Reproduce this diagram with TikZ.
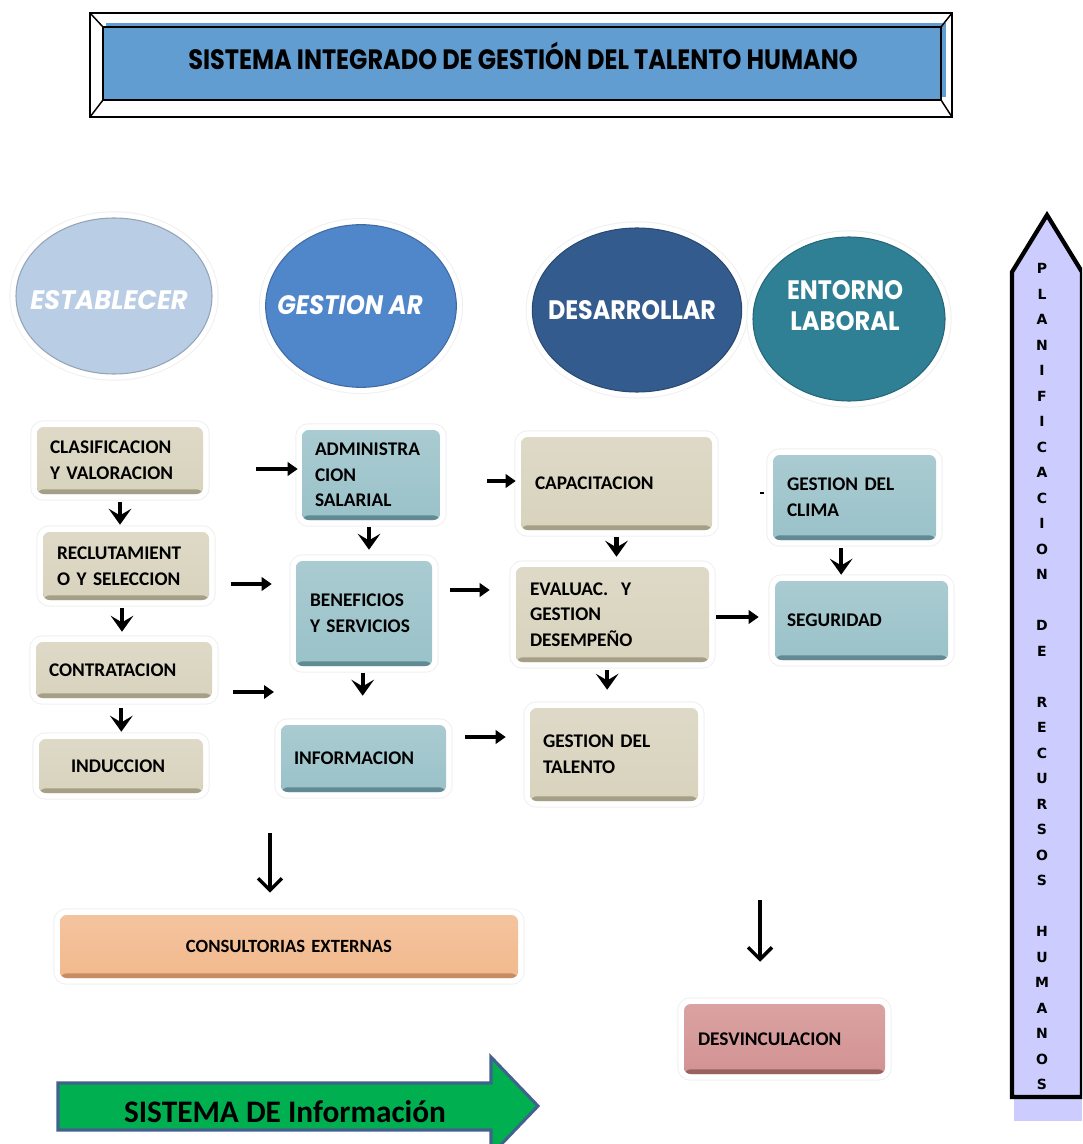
\documentclass[tikz,border=0pt]{standalone}
\usepackage{fontspec}
\setmainfont{Carlito}
\newfontfamily\gothic{Poppins}
\newfontfamily\dejavu{DejaVu Sans}
\usepackage{graphicx}
\usetikzlibrary{shapes.geometric,arrows.meta}

\definecolor{titleblue}{RGB}{97,157,209}
\definecolor{establ}{RGB}{185,205,229}
\definecolor{gestion}{RGB}{80,134,202}
\definecolor{desarr}{RGB}{52,91,141}
\definecolor{entorno}{RGB}{47,128,149}
\definecolor{tanfill}{RGB}{216,211,189}
\definecolor{tanedge}{RGB}{165,159,136}
\definecolor{tealfill}{RGB}{154,194,201}
\definecolor{tealedge}{RGB}{98,138,148}
\definecolor{orangefill}{RGB}{242,185,141}
\definecolor{orangeedge}{RGB}{200,140,100}
\definecolor{pinkfill}{RGB}{211,146,146}
\definecolor{pinkedge}{RGB}{152,98,98}
\definecolor{lavender}{RGB}{204,204,255}
\definecolor{infogreen}{RGB}{0,176,80}
\definecolor{infoedge}{RGB}{65,98,140}

% rounded card: x1 y1 x2 y2 in px, left padding in px
\newcommand\flowcard[8]{%
  \pgfmathsetmacro\cardW{(#5-#3)*0.75}%
  \pgfmathsetmacro\cardH{(#6-#4)*0.75}%
  \pgfmathsetmacro\cardP{#7*0.75}%
  \pgfmathsetmacro\cardT{(#5-#3-2*#7)*0.75}%
  \node[#1, minimum width=\cardW pt, minimum height=\cardH pt,
        inner xsep=\cardP pt, text width=\cardT pt]
        (#2) at ({(#3+#5)/2},{(#4+#6)/2}) {#8};}

\begin{document}
\begin{tikzpicture}[x=0.75pt,y=-0.75pt,
  card/.style={rounded corners=5pt, inner ysep=0pt, align=left,
    font=\bfseries\fontsize{14.5}{19.2}\selectfont,
    preaction={draw=black!6, line width=10pt},
    preaction={draw=white, line width=8.5pt}},
  shadedcard/.style n args={2}{card, top color=#1!85!white, bottom color=#1,
    path picture={\fill[#2] (path picture bounding box.south west)
      rectangle ([yshift=3.5pt]path picture bounding box.south east);}},
  tanbox/.style={shadedcard={tanfill}{tanedge}},
  tealbox/.style={shadedcard={tealfill}{tealedge}},
  orangebox/.style={shadedcard={orangefill}{orangeedge}},
  pinkbox/.style={shadedcard={pinkfill}{pinkedge}},
  orb/.style={ellipse, inner sep=0pt, fill=#1, draw=#1!80!black, line width=0.8pt,
    preaction={draw=black!6, line width=10pt},
    preaction={draw=white, line width=8.5pt}},
  orbtext/.style={text=white, anchor=base, inner sep=0pt,
    font=\gothic\bfseries\fontsize{20}{24}\selectfont},
  darr/.style={line width=3.2pt, -{Stealth[length=12pt,width=17pt,inset=5pt]}},
  harr/.style={line width=2.6pt, -{Triangle[length=7.5pt,width=10pt]}},
  larr/.style={line width=2.6pt, -{Straight Barb[length=9pt,width=18pt]}}
]
\useasboundingbox (0,0) rectangle (1082,1144);
\begin{scope}
\clip (0,0) rectangle (1082,1144);

% ---- title banner with bevelled frame
\fill[titleblue] (106,23) rectangle (946,97);
\fill[titleblue] (103,27) rectangle (941,100);
\draw[line width=2.2pt] (90,13) rectangle (952,117);
\draw[line width=1.6pt] (103,27) rectangle (941,100);
\draw[line width=1.1pt] (90,13) -- (103,27) (952,13) -- (941,27)
  (90,117) -- (103,100) (952,117) -- (941,100);
\node[anchor=base, inner sep=0pt, font=\gothic\bfseries\fontsize{21}{24}\selectfont]
  (title) at (523,69.5)
  {\resizebox{502pt}{\height}{SISTEMA INTEGRADO DE GESTIÓN DEL TALENTO HUMANO}};

% ---- the four stages
\node[orb=establ,  minimum width=147pt, minimum height=117pt] (est) at (114,296) {};
\node[orb=gestion, minimum width=143pt, minimum height=122pt] (ges) at (361,306) {};
\node[orb=desarr,  minimum width=157pt, minimum height=123pt] (des) at (637,310) {};
\node[orb=entorno, minimum width=144pt, minimum height=123pt] (ent) at (849,319) {};
\node[orbtext] (estT) at (109,310) {\resizebox{118pt}{\height}{\itshape ESTABLECER}};
\node[orbtext] (gesT) at (350,315) {\resizebox{109pt}{\height}{\itshape GESTION AR}};
\node[orbtext] (desT) at (632,320) {\resizebox{126pt}{\height}{DESARROLLAR}};
\node[orbtext] (entT) at (845,300) {\resizebox{87pt}{\height}{ENTORNO}};
\node[orbtext] (labT) at (845,330) {\resizebox{82pt}{\height}{LABORAL}};

% ---- column 1
\flowcard{tanbox}{clas}{37}{427}{203}{494}{13}{\mbox{CLASIFICACION}\\\mbox{Y VALORACION}}
\flowcard{tanbox}{recl}{43}{532}{209}{600}{14}{\mbox{RECLUTAMIENT}\\\mbox{O Y SELECCION}}
\flowcard{tanbox}{contr}{36}{642}{212}{698}{13}{\mbox{CONTRATACION}}
\flowcard{tanbox}{induc}{39}{739}{203}{793}{32}{\mbox{INDUCCION}}
% ---- column 2
\flowcard{tealbox}{admin}{302}{430}{440}{520}{13}{\mbox{ADMINISTRA}\\\mbox{CION}\\\mbox{SALARIAL}}
\flowcard{tealbox}{benef}{296}{561}{432}{666}{14}{\mbox{BENEFICIOS}\\\mbox{Y SERVICIOS}}
\flowcard{tealbox}{info}{281}{725}{446}{792}{13}{\mbox{INFORMACION}}
% ---- column 3
\flowcard{tanbox}{capac}{521}{437}{712}{530}{14}{\mbox{CAPACITACION}}
\flowcard{tanbox}{eval}{516}{567}{709}{662}{14}{\mbox{EVALUAC.~~Y}\\\mbox{GESTION}\\\mbox{DESEMPEÑO}}
\flowcard{tanbox}{gtal}{530}{708}{698}{801}{13}{\mbox{GESTION DEL}\\\mbox{TALENTO}}
% ---- column 4
\flowcard{tealbox}{clima}{773}{455}{936}{540}{14}{\mbox{GESTION DEL}\\\mbox{CLIMA}}
\flowcard{tealbox}{segur}{775}{581}{948}{660}{12}{\mbox{SEGURIDAD}}
% ---- lower boxes
\flowcard{orangebox, align=center, font=\bfseries\fontsize{14}{18}\selectfont}{consult}{60}{915}{518}{978}{20}{CONSULTORIAS EXTERNAS}
\flowcard{pinkbox}{desv}{684}{1004}{885}{1074}{14}{\mbox{DESVINCULACION}}

% ---- downward steps inside each column
\draw[darr, shorten <=6pt, shorten >=5.25pt] (clas.south) -- (clas.south |- recl.north);
\draw[darr, shorten <=6pt, shorten >=7.5pt] ([xshift=-3pt]recl.south) -- ([xshift=-3pt]recl.south |- contr.north);
\draw[darr, shorten <=7.5pt, shorten >=5.25pt] ([xshift=-2pt]contr.south) -- ([xshift=-2pt]contr.south |- induc.north);
\draw[darr, shorten <=5.25pt, shorten >=8.25pt] ([xshift=-1.5pt]admin.south) -- ([xshift=-1.5pt]admin.south |- benef.north);
\draw[darr, shorten <=5.25pt, shorten >=21.75pt] ([xshift=-1pt]benef.south) -- ([xshift=-1pt]benef.south |- info.north);
\draw[darr, shorten <=5.25pt, shorten >=7.5pt] (capac.south) -- (capac.south |- eval.north);
\draw[darr, shorten <=6pt, shorten >=13.5pt] ([xshift=-4pt]eval.south) -- ([xshift=-4pt]eval.south |- gtal.north);
\draw[darr, shorten <=6pt, shorten >=4.5pt] ([xshift=-10pt]clima.south) -- ([xshift=-10pt]clima.south |- segur.north);

% ---- links between columns
\coordinate (h1) at (256,469);
\coordinate (h2) at (231,584);
\coordinate (h3) at (233,692);
\coordinate (h3e) at (274,692);
\coordinate (h4) at (487,481);
\coordinate (h5) at (450,590);
\coordinate (h6) at (465,737);
\coordinate (h7) at (716,617);
\draw[harr, shorten >=3pt] (h1) -- (admin.west |- h1);
\draw[harr, shorten >=18pt] (h2) -- (benef.west |- h2);
\draw[harr] (h3) -- (h3e);
\draw[harr, shorten >=3.75pt] (h4) -- (capac.west |- h4);
\draw[harr, shorten >=19.5pt] (h5) -- (eval.west |- h5);
\draw[harr, shorten >=18pt] (h6) -- (gtal.west |- h6);
\draw[harr, shorten >=12pt] (h7) -- (segur.west |- h7);
\coordinate (dot) at (760,493);
\draw[line width=1.8pt] (dot) -- ++(4,0);

% ---- long arrows to the lower boxes
\coordinate (c1) at (270,833);
\coordinate (c2) at (760,900);
\draw[larr, shorten >=16.5pt] (c1) -- (c1 |- consult.north);
\draw[larr, shorten >=31.5pt] (c2) -- (c2 |- desv.north);

% ---- information system arrow
\draw[line width=2.3pt, draw=infoedge, fill=infogreen, line join=miter]
  (58,1083) -- (491,1083) -- (491,1057) -- (538,1106) -- (491,1155)
  -- (491,1130) -- (58,1130) -- cycle;
\node[anchor=base, inner sep=0pt, font=\bfseries\fontsize{23.5}{27}\selectfont]
  (sisinfo) at (285,1122) {SISTEMA DE Información};

% ---- planning arrow on the right
\fill[lavender] (1014,1099) rectangle (1082,1121);
\draw[line width=3.2pt, fill=lavender, line join=miter]
  (1012,1097) -- (1012,272) -- (1047,215) -- (1082,272) -- (1082,1097) -- cycle;
\node[inner sep=0pt, align=center, font=\dejavu\bfseries\fontsize{10.5}{19.125}\selectfont]
  (plan) at (1042,676.5)
  {P\\L\\A\\N\\I\\F\\I\\C\\A\\C\\I\\O\\N\\\mbox{}\\D\\E\\\mbox{}\\R\\E\\C\\U\\R\\S\\O\\S\\\mbox{}\\H\\U\\M\\A\\N\\O\\S};
\end{scope}
\end{tikzpicture}
\end{document}
